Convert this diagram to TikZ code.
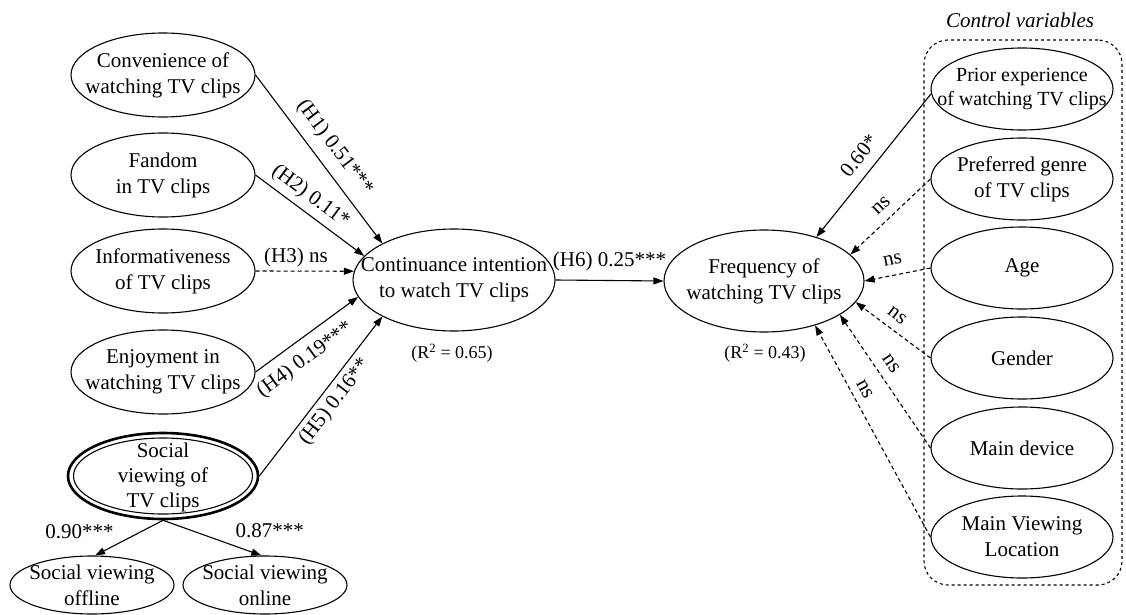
\documentclass[tikz,border=0pt]{standalone}
\usepackage{fontspec}
\setmainfont{Liberation Serif}
\usetikzlibrary{shapes.geometric,arrows.meta}
\begin{document}
\begin{tikzpicture}[x=1pt,y=-1pt,
  el/.style={ellipse, draw, line width=1.1pt, inner sep=0pt, minimum width=184pt, minimum height=84pt},
  elr/.style={el, minimum width=182pt, minimum height=82pt},
  elb/.style={el, minimum width=164pt, minimum height=58pt},
  txt/.style={align=center, inner sep=0pt, font=\fontsize{21}{26}\selectfont},
  lab/.style={inner sep=1pt, font=\fontsize{21}{24}\selectfont},
  rsq/.style={inner sep=0pt, font=\fontsize{18}{20}\selectfont},
  arr/.style={line width=1.1pt, -{Triangle[length=10pt,width=7pt]}},
  darr/.style={arr, dash pattern=on 4pt off 3pt},
]
\useasboundingbox (0,0) rectangle (1126,615);

% left column
\node[el] (conv) at (163,75) {};
\node[txt] (convt) at (conv.center) {Convenience of\\watching TV clips};
\node[el] (fan) at (163,175) {};
\node[txt] (fant) at (fan.center) {Fandom\\in TV clips};
\node[el] (inf) at (163,271) {};
\node[txt] (inft) at (inf.center) {Informativeness\\of TV clips};
\node[el] (enj) at (163,372) {};
\node[txt] (enjt) at (enj.center) {Enjoyment in\\watching TV clips};
\node[el, minimum width=190pt, minimum height=86pt, line width=2.6pt] (soc) at (163,476) {};
\node[el, minimum width=179pt, minimum height=76pt] (soci) at (163,476) {};
\node[txt, font=\fontsize{21}{25}\selectfont] (soct) at (163,477) {Social\\viewing of\\TV clips};
\node[elb] (off) at (92,585) {};
\node[txt] (offt) at (off.center) {Social viewing\\offline};
\node[elb] (onl) at (265,585) {};
\node[txt] (onlt) at (onl.center) {Social viewing\\online};

% centre
\node[el, minimum width=202pt, minimum height=102pt] (cont) at (454,280) {};
\node[txt] (contt) at (cont.center) {Continuance intention\\to watch TV clips};
\node[rsq] (r1) at (452,353) {(R\textsuperscript{2} = 0.65)};
\node[el, minimum width=200pt, minimum height=102pt] (freq) at (764,281) {};
\node[txt] (freqt) at (freq.center) {Frequency of\\watching TV clips};
\node[rsq] (r2) at (765,353) {(R\textsuperscript{2} = 0.43)};

% control variables
\node[draw, dashed, line width=1.1pt, rounded corners=24pt, minimum width=198pt, minimum height=545pt, inner sep=0pt] (box) at (1023,312.5) {};
\node[txt, font=\itshape\fontsize{21}{26}\selectfont] (ctl) at (1020,20) {Control variables};
\node[elr] (prior) at (1022,89) {};
\node[txt, font=\fontsize{20}{24}\selectfont] (priort) at (prior.center) {Prior experience\\of watching TV clips};
\node[elr] (genre) at (1022,179) {};
\node[txt] (genret) at (genre.center) {Preferred genre\\of TV clips};
\node[elr] (age) at (1022,268) {};
\node[txt] (aget) at (age.center) {Age};
\node[elr] (gend) at (1022,358) {};
\node[txt] (gendt) at (gend.center) {Gender};
\node[elr] (dev) at (1022,448) {};
\node[txt] (devt) at (dev.center) {Main device};
\node[elr] (loc) at (1022,537) {};
\node[txt] (loct) at (loc.center) {Main Viewing\\Location};

% hypotheses
\draw[arr] (conv.east) -- (cont.153) node[lab, pos=0.5, sloped, above=8.5pt] {(H1) 0.51***};
\draw[arr] (fan.east) -- (cont.165) node[lab, pos=0.42, sloped, above=4.5pt] {(H2) 0.11*};
\draw[darr] (inf.east) -- (cont.175) node[lab, pos=0.41, above=2.5pt] {(H3) ns};
\draw[arr] (enj.east) -- (cont.190) node[lab, pos=0.37, sloped, below=8.5pt] {(H4) 0.19***};
\draw[arr] (soc.east) -- (cont.207) node[lab, pos=0.52, sloped, below=3.5pt] {(H5) 0.16**};
\draw[arr] (cont.east) -- (freq.west) node[lab, pos=0.5, above=8pt] {(H6) 0.25***};

% second order
\draw[arr] (soc.south) -- (off.84) node[lab, pos=0.5, xshift=-49.5pt, yshift=6.5pt] {0.90***};
\draw[arr] (soc.south) -- (onl.97) node[lab, pos=0.5, xshift=57.5pt, yshift=7.5pt] {0.87***};

% controls
\draw[arr] (prior.183) -- (freq.40) node[lab, pos=0.51, sloped, above=9pt] {0.60*};
\draw[darr] (genre.west) -- (freq.17) node[lab, pos=0.49, sloped, above=8pt] {ns};
\draw[darr] (age.west) -- (freq.east) node[lab, pos=0.53, sloped, above=9pt] {ns};
\draw[darr] (gend.west) -- (freq.-13) node[lab, pos=0.56, sloped, above=7.5pt] {ns};
\draw[darr] (dev.west) -- (freq.-24) node[lab, pos=0.57, sloped, above=8pt] {ns};
\draw[darr] (loc.west) -- (freq.-41) node[lab, pos=0.67, sloped, above=6.5pt] {ns};
\end{tikzpicture}
\end{document}
